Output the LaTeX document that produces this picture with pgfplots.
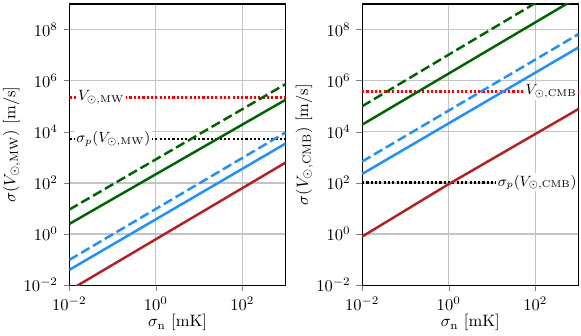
\documentclass[border=0pt]{standalone}
\usepackage{pgfplots}
\pgfplotsset{compat=1.18}
\definecolor{dgreen}{HTML}{006400}
\definecolor{dblue}{HTML}{1E90FF}
\definecolor{fred}{HTML}{B22222}
\definecolor{gridgray}{HTML}{C4C4C4}
\tikzset{
  gs/.style={dgreen, line width=1.5pt},
  gd/.style={dgreen, line width=1.5pt, dash pattern=on 5.8pt off 2.5pt},
  bs/.style={dblue, line width=1.5pt},
  bd/.style={dblue, line width=1.5pt, dash pattern=on 5.8pt off 2.5pt},
  rs/.style={fred, line width=1.5pt},
  hl/.style={line width=1.4pt, dash pattern=on 1.3pt off 1.3pt},
  lab/.style={fill=white, inner sep=1pt, font=\small},
}
\begin{document}
\begin{tikzpicture}
\begin{axis}[
    scale only axis, width=131pt, height=170.3pt,
    xmode=log, ymode=log,
    xmin=1e-2, xmax=1e3, ymin=1e-2, ymax=1e9,
    xtick={1e-2,1,1e2}, ytick={1e-2,1,1e2,1e4,1e6,1e8},
    minor tick style={draw=none},
    grid=major, major grid style={gridgray, line width=0.7pt},
    tick align=outside, major tick length=3.5pt,
    axis line style={line width=0.8pt},
    tick pos=left,
    xlabel={$\sigma_{\mathrm{n}}$ [mK]},
    xlabel style={at={(axis description cs:0.5,0)}, anchor=north, inner sep=0pt, yshift=-17.6pt},
    ylabel={$\sigma(V_{\odot,\mathrm{MW}})$ [m/s]},
    ylabel style={at={([xshift=-35pt]axis description cs:0,0.5)}, anchor=center, rotate=0}]
\addplot[hl, red] coordinates {(1e-2,2.2e5) (1e3,2.2e5)};
\addplot[hl, black] coordinates {(1e-2,5.2e3) (1e3,5.2e3)};
\addplot[gd] coordinates {(1e-2,9.1) (1e3,7.4e5)};
\addplot[gs] coordinates {(1e-2,2.5) (1e3,1.8e5)};
\addplot[bd] coordinates {(1e-2,0.098) (1e3,9.5e3)};
\addplot[bs] coordinates {(1e-2,0.04) (1e3,3.5e3)};
\addplot[rs] coordinates {(1e-2,0.0063) (1e3,630)};
\node[lab, anchor=west] at (axis cs:0.01426,2.2e5) {$V_{\odot,\mathrm{MW}}$};
\node[lab, anchor=west] at (axis cs:0.0131,5.2e3) {$\sigma_p(V_{\odot,\mathrm{MW}})$};
\end{axis}
\begin{axis}[
    at={(177.3pt,0pt)},
    scale only axis, width=131pt, height=170.3pt,
    xmode=log, ymode=log,
    xmin=1e-2, xmax=1e3, ymin=1e-2, ymax=1e9,
    xtick={1e-2,1,1e2}, ytick={1e-2,1,1e2,1e4,1e6,1e8},
    minor tick style={draw=none},
    grid=major, major grid style={gridgray, line width=0.7pt},
    tick align=outside, major tick length=3.5pt,
    axis line style={line width=0.8pt},
    tick pos=left,
    xlabel={$\sigma_{\mathrm{n}}$ [mK]},
    xlabel style={at={(axis description cs:0.5,0)}, anchor=north, inner sep=0pt, yshift=-17.6pt},
    ylabel={$\sigma(V_{\odot,\mathrm{CMB}})$ [m/s]},
    ylabel style={at={([xshift=-35pt]axis description cs:0,0.5)}, anchor=center, rotate=0}]
\addplot[hl, red] coordinates {(1e-2,3.8e5) (1e3,3.8e5)};
\addplot[hl, black] coordinates {(1e-2,1.05e2) (1e3,1.05e2)};
\addplot[gd] coordinates {(1e-2,1.0e5) (1e3,1.1e10)};
\addplot[gs] coordinates {(1e-2,1.9e4) (1e3,1.9e9)};
\addplot[bd] coordinates {(1e-2,690) (1e3,6.6e7)};
\addplot[bs] coordinates {(1e-2,225) (1e3,2.0e7)};
\addplot[rs] coordinates {(1e-2,0.8) (1,90) (1e3,7.8e4)};
\node[lab, anchor=east] at (axis cs:1e3,3.8e5) {$V_{\odot,\mathrm{CMB}}$};
\node[lab, anchor=east] at (axis cs:1e3,1.05e2) {$\sigma_p(V_{\odot,\mathrm{CMB}})$};
\end{axis}
\pgfresetboundingbox
\path (-42.0pt,-30.3pt) rectangle (309.8pt,172.7pt);
\end{tikzpicture}
\end{document}
